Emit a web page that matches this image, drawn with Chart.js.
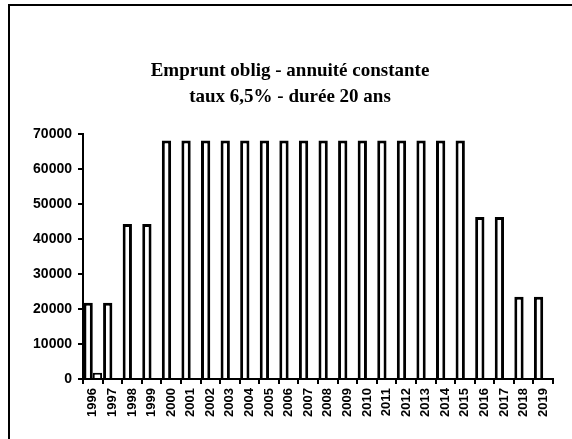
<!DOCTYPE html>
<html>
<head>
<meta charset="utf-8">
<script src="https://cdn.jsdelivr.net/npm/chart.js@4/dist/chart.umd.min.js"></script>
<style>
  html, body { margin: 0; padding: 0; background: #fff; }
  #wrap { width: 572px; height: 439px; position: relative; }
</style>
</head>
<body>
<div id="wrap"><canvas id="chart" width="572" height="439"></canvas></div>
<script>
const years = ["1996","1997","1998","1999","2000","2001","2002","2003","2004","2005","2006","2007",
  "2008","2009","2010","2011","2012","2013","2014","2015","2016","2017","2018","2019"];
const annuites = [21800, 21800, 44300, 44300, 68200, 68200, 68200, 68200, 68200, 68200, 68200, 68200,
  68200, 68200, 68200, 68200, 68200, 68200, 68200, 68200, 46300, 46300, 23500, 23500];
const second = [1800, null, null, null, null, null, null, null, null, null, null, null,
  null, null, null, null, null, null, null, null, null, null, null, null];
const yTicks = [0, 10000, 20000, 30000, 40000, 50000, 60000, 70000];
const titleLines = ["Emprunt oblig - annuité constante", "taux 6,5% - durée 20 ans"];

// page frame (left, top edges of the scanned box)
const framePlugin = {
  id: "frame",
  afterDraw(chart) {
    const ctx = chart.ctx;
    ctx.save();
    ctx.strokeStyle = "#000";
    ctx.lineWidth = 2;
    ctx.beginPath();
    ctx.moveTo(9, 439);
    ctx.lineTo(9, 5);
    ctx.lineTo(572, 5);
    ctx.stroke();
    ctx.restore();
  }
};

new Chart(document.getElementById("chart"), {
  type: "bar",
  data: {
    labels: years,
    datasets: [
      { data: annuites, backgroundColor: "#fff", borderColor: "#000", borderWidth: 3 },
      { data: second, backgroundColor: "#fff", borderColor: "#000", borderWidth: 2 }
    ]
  },
  options: {
    responsive: false,
    animation: false,
    categoryPercentage: 0.95,
    barPercentage: 1,
    layout: { padding: { left: 27, right: 19, top: 0, bottom: 0 } },
    plugins: {
      legend: { display: false },
      tooltip: { enabled: false },
      title: {
        display: true,
        text: titleLines,
        color: "#000",
        font: { family: "'Liberation Serif', 'DejaVu Serif', serif", size: 19, weight: "bold", lineHeight: 1.32 },
        padding: { top: 59, bottom: 25 }
      }
    },
    scales: {
      x: {
        grid: { display: true, drawOnChartArea: false, drawTicks: true, tickLength: 5, color: "#000", lineWidth: 2 },
        border: { display: true, color: "#000", width: 2 },
        ticks: {
          color: "#000", minRotation: 90, maxRotation: 90, autoSkip: false, padding: 4,
          font: { family: "'Liberation Sans', Arial, sans-serif", size: 13, weight: "bold" }
        },
        afterFit(scale) { scale.height = 60; }
      },
      y: {
        min: 0, max: 70000,
        afterBuildTicks(scale) { scale.ticks = yTicks.map(v => ({ value: v })); },
        grid: { display: true, drawOnChartArea: false, drawTicks: true, tickLength: 5, color: "#000", lineWidth: 2 },
        border: { display: true, color: "#000", width: 2 },
        ticks: {
          color: "#000", padding: 6,
          callback: v => String(v),
          font: { family: "'Liberation Sans', Arial, sans-serif", size: 14, weight: "bold" }
        },
        afterFit(scale) { scale.width = 56; }
      }
    }
  },
  plugins: [framePlugin]
});
</script>
</body>
</html>
